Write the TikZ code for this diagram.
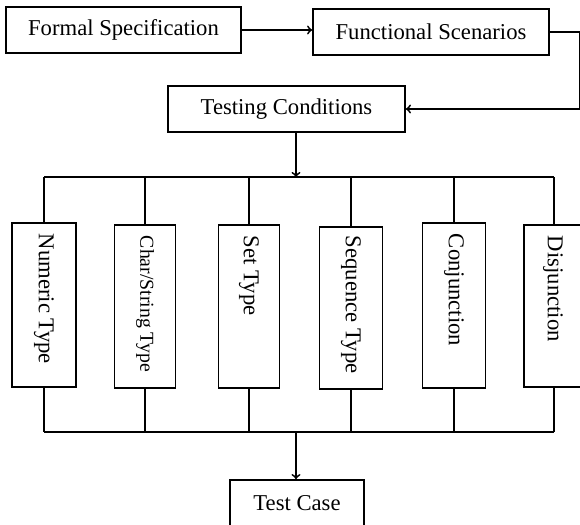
\documentclass[tikz,border=0pt]{standalone}
\usepackage{fontspec}
\setmainfont{Liberation Serif}

\tikzset{every picture/.style={line width=1.4pt}}
\tikzset{
  hbox/.style={draw, inner sep=0pt, minimum height=34.5pt, font=\fontsize{17}{20}\selectfont},
  vbox/.style={draw, inner sep=0pt},
  vtext/.style={rotate=-90, anchor=west, inner sep=0pt, font=\fontsize{17}{20}\selectfont}
}

\begin{document}
\begin{tikzpicture}[x=0.75pt,y=0.75pt,yscale=-1,xscale=1]
\useasboundingbox (0,0) rectangle (580,524);
\clip (0,0) rectangle (580,524);

%Shape: Rectangle [Formal Specification]
\node [hbox, minimum width=176.25pt] (fs) at (123.5,30) {Formal Specification};
%Shape: Rectangle [Functional Scenarios]
\node [hbox, minimum width=177pt] (fsc) at (431,32) {Functional Scenarios};
%Shape: Rectangle [Testing Conditions]
\node [hbox, minimum width=177.75pt] (tc) at (286.5,109) {Testing Conditions};
%Shape: Rectangle [Test Case]
\node [hbox, minimum width=100.5pt] (tcase) at (297,503) {Test Case};

%Shape: Rectangle [types]
\node [vbox, minimum width=48pt, minimum height=123pt] (num) at (44,305) {};
\node [vbox, minimum width=45.75pt, minimum height=122.25pt] (chr) at (145,306.5) {};
\node [vbox, minimum width=45.75pt, minimum height=122.25pt] (set) at (249,306.5) {};
\node [vbox, minimum width=47.25pt, minimum height=121.5pt] (seq) at (351,308) {};
\node [vbox, minimum width=47.25pt, minimum height=123.75pt] (con) at (454,305.5) {};
\node [vbox, minimum width=45pt, minimum height=121.5pt] (dis) at (554,306) {};

% Text Node
\node [vtext] (numT) at (44,233) {Numeric Type};
% Text Node
\node [vtext, font=\fontsize{14.8}{17}\selectfont] (chrT) at (145,235) {Char/String Type};
% Text Node
\node [vtext] (setT) at (249,235) {Set Type};
% Text Node
\node [vtext] (seqT) at (351,235) {Sequence Type};
% Text Node
\node [vtext] (conT) at (454,233) {Conjunction};
% Text Node
\node [vtext] (disT) at (553,235) {Disjunction};

%Bus points
\coordinate (top) at (296,177);
\coordinate (bot) at (296,432);

%Straight Lines
\draw [->] (fs.east) -- (fs.east -| fsc.west);
%Straight Lines
\draw [->] (fsc.east) -- ++(30,0) |- (tc.east);
%Straight Lines
\draw [->] (tc.south -| top) -- (top);

%Straight Lines [upper bus]
\draw (num.north |- top) -- (dis.north |- top);
\draw (num.north) -- (num.north |- top);
\draw (chr.north) -- (chr.north |- top);
\draw (set.north) -- (set.north |- top);
\draw (seq.north) -- (seq.north |- top);
\draw (con.north) -- (con.north |- top);
\draw (dis.north) -- (dis.north |- top);

%Straight Lines [lower bus]
\draw (num.south |- bot) -- (dis.south |- bot);
\draw (num.south) -- (num.south |- bot);
\draw (chr.south) -- (chr.south |- bot);
\draw (set.south) -- (set.south |- bot);
\draw (seq.south) -- (seq.south |- bot);
\draw (con.south) -- (con.south |- bot);
\draw (dis.south) -- (dis.south |- bot);

%Straight Lines
\draw [->] (bot) -- (tcase.north -| bot);

\end{tikzpicture}
\end{document}
